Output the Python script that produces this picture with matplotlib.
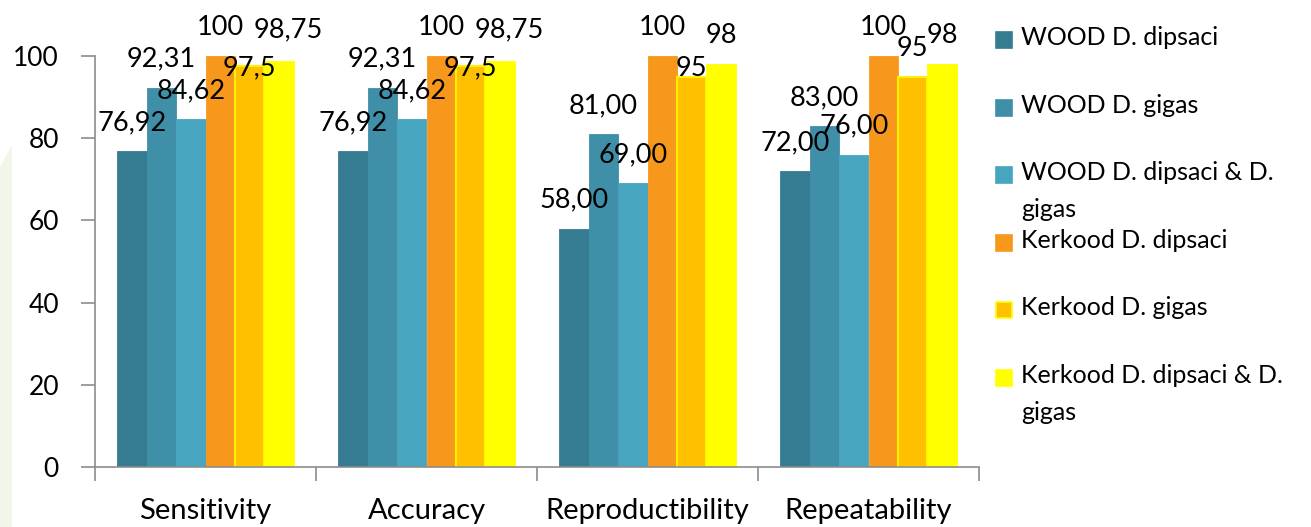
import matplotlib
matplotlib.use("Agg")
import matplotlib.pyplot as plt
from matplotlib.patches import Rectangle, Polygon
import numpy as np

categories = ["Sensitivity", "Accuracy", "Reproductibility", "Repeatability"]
series_names = ["WOOD D. dipsaci", "WOOD D. gigas", "WOOD D. dipsaci & D.\ngigas",
                "Kerkood D. dipsaci", "Kerkood D. gigas", "Kerkood D. dipsaci & D.\ngigas"]
wood_dipsaci = [76.92, 76.92, 58.00, 72.00]
wood_gigas = [92.31, 92.31, 81.00, 83.00]
wood_both = [84.62, 84.62, 69.00, 76.00]
kerk_dipsaci = [100, 100, 100, 100]
kerk_gigas = [97.5, 97.5, 95, 95]
kerk_both = [98.75, 98.75, 98, 98]
labels_wood_dipsaci = ["76,92", "76,92", "58,00", "72,00"]
labels_wood_gigas = ["92,31", "92,31", "81,00", "83,00"]
labels_wood_both = ["84,62", "84,62", "69,00", "76,00"]
labels_kerk_dipsaci = ["100", "100", "100", "100"]
labels_kerk_gigas = ["97,5", "97,5", "95", "95"]
labels_kerk_both = ["98,75", "98,75", "98", "98"]

series = [wood_dipsaci, wood_gigas, wood_both, kerk_dipsaci, kerk_gigas, kerk_both]
series_labels = [labels_wood_dipsaci, labels_wood_gigas, labels_wood_both,
                 labels_kerk_dipsaci, labels_kerk_gigas, labels_kerk_both]
colors = ["#357C92", "#3F8FA8", "#47A5C0", "#F7981D", "#FFC000", "#FFFF00"]
edgecolors = ["#357C92", "#3F8FA8", "#47A5C0", "#F7981D", "#FFF200", "#FFFF00"]

# manual label nudges (pixels) as in the original chart: (series, category) -> (dx, dy)
label_offsets = {(4, 0): (0, -9), (4, 1): (0, -9), (5, 0): (9, 24), (5, 1): (9, 24), (4, 2): (0, 1)}

plt.rcParams['font.family'] = ['Lato', 'DejaVu Sans']
W, H = 1311, 527
fig = plt.figure(figsize=(W / 100, H / 100), dpi=100)

# faint decorative strip on the left
fig.patches.append(Polygon([(0, 1 - 167 / H), (12 / W, 1 - 145 / H), (12 / W, 0), (0, 0)],
                           closed=True, transform=fig.transFigure, facecolor="#F2F5EA",
                           edgecolor="none", zorder=0))

ax = fig.add_axes([95 / W, 1 - 467 / H, (979 - 95) / W, (467 - 56) / H])
ax.set_facecolor("none")

n = len(series)
w = 1 / 7.5
x = np.arange(len(categories))
for j, (vals, labs) in enumerate(zip(series, series_labels)):
    pos = x + (j - (n - 1) / 2) * w
    lw = 1.5 if j == 4 else 0.6
    bars = ax.bar(pos, vals, width=w, color=colors[j], edgecolor=edgecolors[j], linewidth=lw, zorder=2)
    for i, (b, lab) in enumerate(zip(bars, labs)):
        dx, dy = label_offsets.get((j, i), (0, 21))
        ax.annotate(lab, (b.get_x() + b.get_width() / 2, b.get_height()),
                    xytext=(dx, dy), textcoords="offset pixels", ha="center", va="baseline",
                    fontsize=19.5, color="black", annotation_clip=False, zorder=5)

ax.set_xlim(-0.5, len(categories) - 0.5)
ax.set_ylim(0, 100)
ax.set_yticks([0, 20, 40, 60, 80, 100])
ax.set_xticks(np.arange(len(categories) + 1) - 0.5)
ax.set_xticklabels([])
ax.set_xticks(x, minor=True)
ax.set_xticklabels(categories, minor=True)
ax.tick_params(axis="x", which="minor", length=0, pad=22, labelsize=21)
ax.tick_params(axis="x", which="major", length=10, width=1.2, color="#8C8C8C", direction="out")
ax.tick_params(axis="y", length=10, width=1.2, color="#8C8C8C", pad=16, labelsize=19)
for s in ["top", "right"]:
    ax.spines[s].set_visible(False)
for s in ["left", "bottom"]:
    ax.spines[s].set_color("#8C8C8C")
    ax.spines[s].set_linewidth(1.2)

# legend drawn to match evenly spaced entries
leg_y0 = 40
leg_dy = 67.6
for j, name in enumerate(series_names):
    yc = leg_y0 + j * leg_dy
    fig.patches.append(Rectangle((996 / W, 1 - (yc + 8) / H), 16 / W, 16 / H,
                                 transform=fig.transFigure, facecolor=colors[j],
                                 edgecolor=("#FFFF00" if j == 4 else colors[j]), linewidth=1.2))
    fig.text(1021 / W, 1 - (yc - 14) / H, name, ha="left", va="top", fontsize=18,
             color="black", linespacing=1.75)

fig.savefig("out.png", dpi=100)
